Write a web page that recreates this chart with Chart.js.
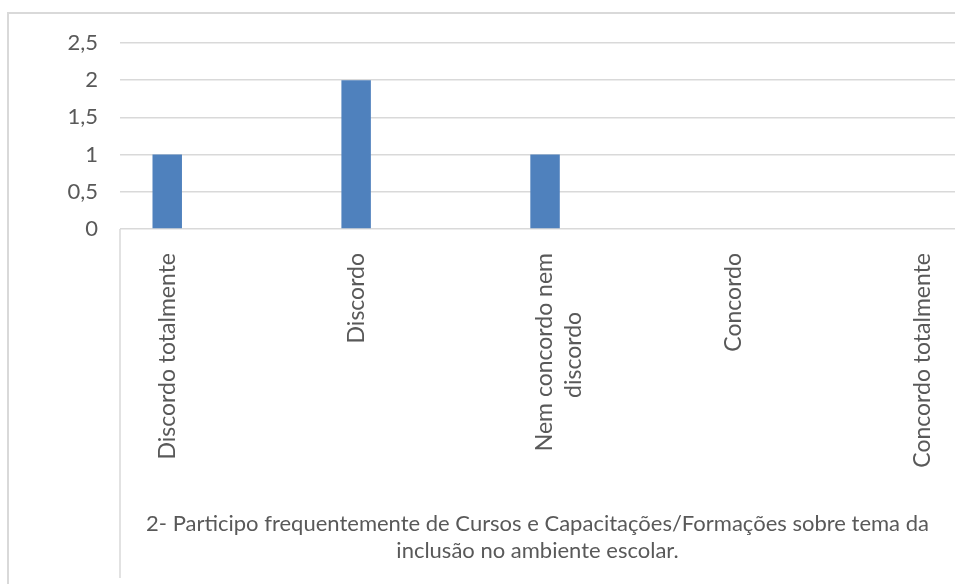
<!DOCTYPE html>
<html>
<head>
<meta charset="utf-8">
<script src="https://cdn.jsdelivr.net/npm/chart.js@4"></script>
<style>
  html, body { margin: 0; padding: 0; background: #fff; overflow: hidden; }
  #frame {
    position: absolute; left: 7px; top: 12px; width: 1000px; height: 700px;
    border: 2px solid #d9d9d9; box-sizing: border-box;
  }
  #wrap { position: absolute; left: 0; top: 0; width: 955px; height: 584px; }
</style>
</head>
<body>
<div id="frame"></div>
<div id="wrap"><canvas id="chart" width="955" height="584"></canvas></div>
<script>
// Categories and counts
const categories = [
    'Discordo totalmente',
    'Discordo',
    ['Nem concordo nem', 'discordo'],
    'Concordo',
    'Concordo totalmente'
];
const counts = [1, 2, 1, 0, 0];
const yTicks = [0, 0.5, 1, 1.5, 2, 2.5];
const axisTitle = [
    '2- Participo frequentemente de Cursos e Capacitações/Formações sobre tema da',
    'inclusão no ambiente escolar.'
];

const TEXT = '#595959';
const GRID = '#d9d9d9';
const FONT = 'Lato, "Open Sans", sans-serif';
const TICK_SIZE = 23;

// rotated labels are right-aligned by Chart.js; pad short lines so that
// multi-line labels look centred like the original
function centreLines(label) {
    if (!Array.isArray(label)) return label;
    const ctx = document.createElement('canvas').getContext('2d');
    ctx.font = TICK_SIZE + 'px ' + FONT;
    const widths = label.map(l => ctx.measureText(l).width);
    const widest = Math.max(...widths);
    const nbsp = ctx.measureText('\u00a0').width;
    return label.map((l, i) => l + '\u00a0'.repeat(Math.round((widest - widths[i]) / 2 / nbsp)));
}

// draws the left axis line down through the label area, like the original
const axisLinePlugin = {
    id: 'axisLine',
    afterDraw(chart) {
        const ctx = chart.ctx;
        const x = chart.scales.y.right;
        ctx.save();
        ctx.strokeStyle = GRID;
        ctx.lineWidth = 1.5;
        ctx.beginPath();
        ctx.moveTo(x, chart.chartArea.bottom);
        ctx.lineTo(x, chart.height - 6);
        ctx.stroke();
        ctx.restore();
    }
};

new Chart(document.getElementById('chart'), {
    type: 'bar',
    data: {
        datasets: [{
            data: counts.map((v, i) => ({ x: i, y: v })),
            backgroundColor: '#4f81bd',
            borderWidth: 0,
            categoryPercentage: 0.156,
            barPercentage: 1
        }]
    },
    options: {
        responsive: false,
        animation: false,
        layout: { padding: { top: 43, right: 0, bottom: 0, left: 0 } },
        plugins: { legend: { display: false }, tooltip: { enabled: false } },
        scales: {
            x: {
                type: 'linear',
                bounds: 'data',
                offset: false,
                min: -0.25,
                max: 4.17,
                afterBuildTicks: scale => {
                    scale.ticks = categories.map((c, i) => ({ value: i }));
                },
                afterFit: scale => { scale.height = 355; },
                grid: { display: true, color: 'rgba(0,0,0,0)', drawOnChartArea: false, drawTicks: true, tickLength: 24 },
                border: { display: false },
                ticks: {
                    autoSkip: false,
                    minRotation: 90,
                    maxRotation: 90,
                    padding: 0,
                    color: TEXT,
                    font: { family: FONT, size: TICK_SIZE, lineHeight: 1.22 },
                    callback: value => centreLines(categories[value])
                },
                title: {
                    display: true,
                    text: axisTitle,
                    color: TEXT,
                    padding: { top: 0, bottom: 20 },
                    font: { family: FONT, size: 22, lineHeight: 1.23 }
                }
            },
            y: {
                min: 0,
                max: 2.5,
                afterBuildTicks: scale => {
                    scale.ticks = yTicks.map(v => ({ value: v }));
                },
                afterFit: scale => { scale.width = 120; },
                grid: { color: GRID, lineWidth: 1.5, drawTicks: false },
                border: { display: false },
                ticks: {
                    padding: 22,
                    color: TEXT,
                    font: { family: FONT, size: 22 },
                    callback: value => String(value).replace('.', ',')
                }
            }
        }
    },
    plugins: [axisLinePlugin]
});
</script>
</body>
</html>
